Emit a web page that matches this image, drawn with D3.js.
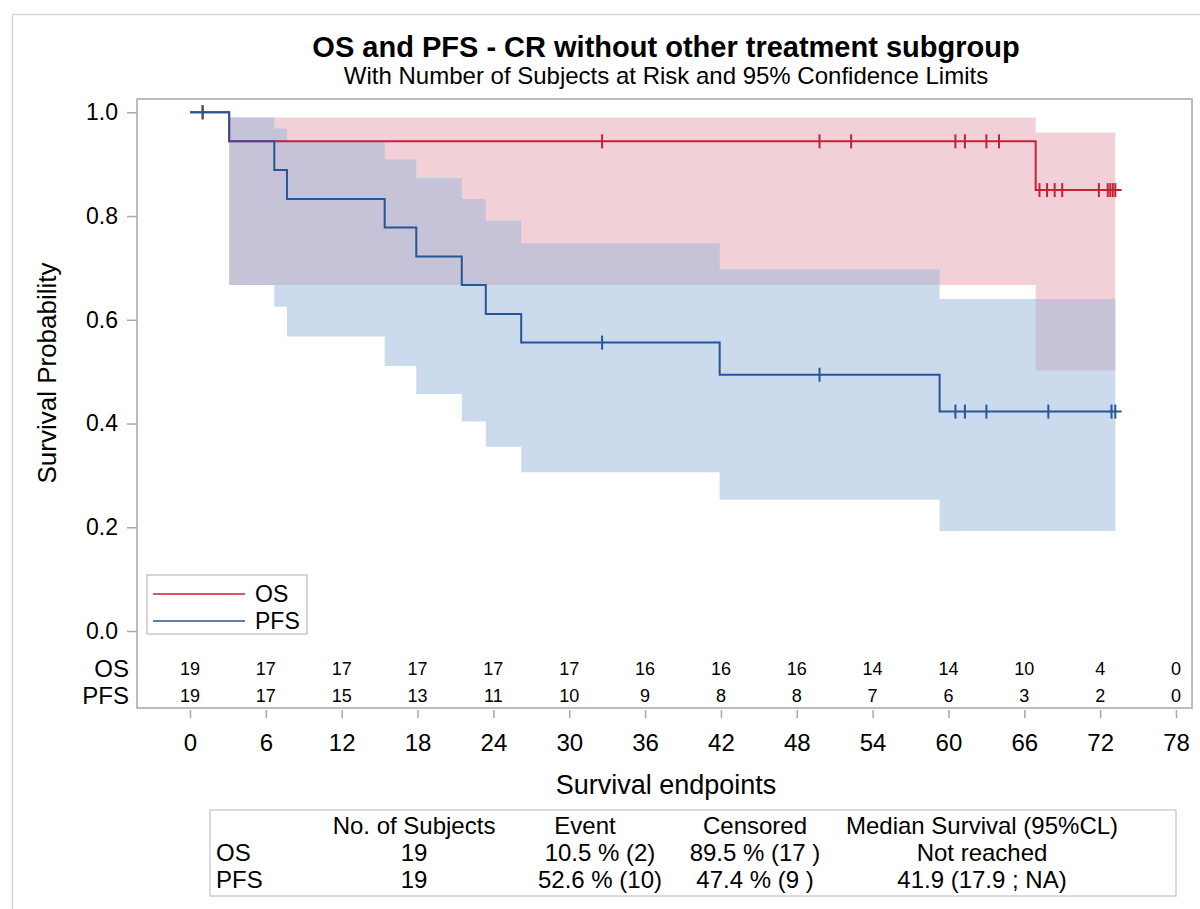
<!DOCTYPE html>
<html>
<head>
<meta charset="utf-8">
<script src="https://cdn.jsdelivr.net/npm/d3@7"></script>
<style>
  body { margin: 0; background: #fff; }
  svg text { font-family: "Liberation Sans", Arial, sans-serif; fill: #000; }
</style>
</head>
<body>
<svg id="chart" width="1200" height="909"></svg>
<script>
// ---- data ----
var osTimes = [0, 3.1, 66.9];
var osSurv = [1, 0.944, 0.85];
var osCensor = [1, 32.6, 49.8, 52.3, 60.55, 61.3, 63.0, 64.0, 67.2, 67.8, 68.4, 69.0, 71.9, 72.6, 72.8, 73.0, 73.2];

var pfsTimes = [0, 3.1, 6.67, 7.67, 15.4, 17.9, 21.5, 23.4, 26.2, 41.9, 59.3];
var pfsSurv = [1, 0.944, 0.889, 0.833, 0.778, 0.722, 0.667, 0.611, 0.556, 0.494, 0.423];
var pfsCensor = [1, 32.6, 49.8, 60.55, 61.3, 63.0, 67.9, 72.9, 73.2];

var lastTime = 73.7;

// confidence bands (step functions)
var osBandTimes = [3.1, 66.9];
var osLower = [0.667, 0.502];
var osUpper = [0.990, 0.961];

var pfsBandTimes = [3.1, 6.67, 7.67, 15.4, 17.9, 21.5, 23.4, 26.2, 41.9, 59.3];
var pfsLower = [0.667, 0.625, 0.568, 0.511, 0.457, 0.404, 0.355, 0.306, 0.253, 0.193];
var pfsUpper = [0.990, 0.969, 0.945, 0.909, 0.873, 0.833, 0.791, 0.747, 0.697, 0.640];
var bandEnd = 73.2;

var riskTimes = [0, 6, 12, 18, 24, 30, 36, 42, 48, 54, 60, 66, 72, 78];
var osRisk = [19, 17, 17, 17, 17, 17, 16, 16, 16, 14, 14, 10, 4, 0];
var pfsRisk = [19, 17, 15, 13, 11, 10, 9, 8, 8, 7, 6, 3, 2, 0];

var xTicks = [0, 6, 12, 18, 24, 30, 36, 42, 48, 54, 60, 66, 72, 78];
var yTicks = [0, 0.2, 0.4, 0.6, 0.8, 1.0];

var tableHeader = ["", "No. of Subjects", "Event", "Censored", "Median Survival (95%CL)"];
var tableOS = ["OS", "19", "10.5 % (2)", "89.5 % (17 )", "Not reached"];
var tablePFS = ["PFS", "19", "52.6 % (10)", "47.4 % (9 )", "41.9 (17.9 ; NA)"];

var redLine = "#c61f38", blueLine = "#285596";
var pinkFill = "#f2d0d8", blueFill = "#cbdaed", purpleFill = "#c6c3d9";

var svg = d3.select("#chart");

// outer light border
svg.append("rect").attr("x", 12.5).attr("y", 14.5).attr("width", 1200).attr("height", 920)
  .attr("fill", "none").attr("stroke", "#d6d6d6").attr("stroke-width", 1.5);

var frame = {left: 137, right: 1192, top: 99, bottom: 708};

var x = d3.scaleLinear().domain([0, 78]).range([190, 1176]);
var y = d3.scaleLinear().domain([0, 1]).range([631, 112.3]);

// title
svg.append("text").attr("x", 666).attr("y", 57).attr("text-anchor", "middle")
  .style("font-size", "29px").style("font-weight", "bold")
  .text("OS and PFS - CR without other treatment subgroup");
svg.append("text").attr("x", 666).attr("y", 84).attr("text-anchor", "middle")
  .style("font-size", "24px")
  .text("With Number of Subjects at Risk and 95% Confidence Limits");

function bandData(times, lo, hi, end) {
  var d = times.map(function(t, i) { return {t: t, lo: lo[i], hi: hi[i]}; });
  d.push({t: end, lo: lo[lo.length - 1], hi: hi[hi.length - 1]});
  return d;
}
function stepData(times, s, end) {
  var d = times.map(function(t, i) { return {t: t, s: s[i]}; });
  d.push({t: end, s: s[s.length - 1]});
  return d;
}

var area = d3.area().curve(d3.curveStepAfter)
  .x(function(d) { return x(d.t); })
  .y0(function(d) { return y(d.lo); })
  .y1(function(d) { return y(d.hi); });

var line = d3.line().curve(d3.curveStepAfter)
  .x(function(d) { return x(d.t); })
  .y(function(d) { return y(d.s); });

var osBand = bandData(osBandTimes, osLower, osUpper, bandEnd);
var pfsBand = bandData(pfsBandTimes, pfsLower, pfsUpper, bandEnd);

svg.append("clipPath").attr("id", "osClip").append("path").attr("d", area(osBand));

var plot = svg.append("g");
plot.append("path").attr("d", area(osBand)).attr("fill", pinkFill);
plot.append("path").attr("d", area(pfsBand)).attr("fill", blueFill);
plot.append("path").attr("d", area(pfsBand)).attr("fill", purpleFill).attr("clip-path", "url(#osClip)");

var osData = stepData(osTimes, osSurv, lastTime);
var pfsData = stepData(pfsTimes, pfsSurv, lastTime);

function survAt(times, s, t) {
  var v = s[0];
  times.forEach(function(tt, i) { if (tt <= t) v = s[i]; });
  return v;
}

function drawCurve(data, times, s, censor, color) {
  plot.append("path").attr("d", line(data)).attr("fill", "none")
    .attr("stroke", color).attr("stroke-width", 2);
  plot.selectAll(null).data(censor).enter().append("line")
    .attr("x1", function(d) { return x(d); }).attr("x2", function(d) { return x(d); })
    .attr("y1", function(d) { return y(survAt(times, s, d)) - 7; })
    .attr("y2", function(d) { return y(survAt(times, s, d)) + 7; })
    .attr("stroke", color).attr("stroke-width", 2);
}
drawCurve(osData, osTimes, osSurv, osCensor, redLine);
drawCurve(pfsData, pfsTimes, pfsSurv, pfsCensor, blueLine);

// frame
svg.append("rect").attr("x", frame.left).attr("y", frame.top)
  .attr("width", frame.right - frame.left).attr("height", frame.bottom - frame.top)
  .attr("fill", "none").attr("stroke", "#a8a8a8").attr("stroke-width", 1.5);

// axes
var yAxis = svg.append("g").attr("transform", "translate(" + frame.left + ",0)")
  .call(d3.axisLeft(y).tickValues(yTicks).tickFormat(d3.format(".1f")).tickSize(10).tickPadding(9));
var xAxis = svg.append("g").attr("transform", "translate(0," + (frame.bottom + 2) + ")")
  .call(d3.axisBottom(x).tickValues(xTicks).tickFormat(d3.format("d")).tickSize(8).tickPadding(16));
[yAxis, xAxis].forEach(function(a) {
  a.select(".domain").remove();
  a.selectAll(".tick line").attr("stroke", "#a8a8a8").attr("stroke-width", 1.5);
  a.selectAll(".tick text").style("font-family", "Liberation Sans, Arial, sans-serif").attr("fill", "#000");
});
yAxis.selectAll(".tick text").style("font-size", "23px");
xAxis.selectAll(".tick text").style("font-size", "24px");

svg.append("text").attr("transform", "translate(56,373) rotate(-90)").attr("text-anchor", "middle")
  .style("font-size", "26px").text("Survival Probability");
svg.append("text").attr("x", 666).attr("y", 794).attr("text-anchor", "middle")
  .style("font-size", "27px").text("Survival endpoints");

// number at risk
var riskRows = [{label: "OS", vals: osRisk, y: 668}, {label: "PFS", vals: pfsRisk, y: 695.5}];
riskRows.forEach(function(r) {
  svg.append("text").attr("x", 129).attr("y", r.y + 8.5).attr("text-anchor", "end")
    .style("font-size", "24px").text(r.label);
  svg.selectAll(null).data(r.vals).enter().append("text")
    .attr("x", function(d, i) { return x(riskTimes[i]); }).attr("y", r.y + 6.5)
    .attr("text-anchor", "middle").style("font-size", "18px").text(function(d) { return d; });
});

// legend
var lg = svg.append("g");
lg.append("rect").attr("x", 147).attr("y", 575).attr("width", 160).attr("height", 59)
  .attr("fill", "#fff").attr("stroke", "#c8c8c8").attr("stroke-width", 1.5);
[{name: "OS", color: redLine, y: 594}, {name: "PFS", color: blueLine, y: 621}].forEach(function(e) {
  lg.append("line").attr("x1", 153).attr("x2", 245).attr("y1", e.y).attr("y2", e.y)
    .attr("stroke", e.color).attr("stroke-width", 1.5);
  lg.append("text").attr("x", 255).attr("y", e.y + 8).style("font-size", "23px").text(e.name);
});

// summary table
svg.append("rect").attr("x", 210).attr("y", 810).attr("width", 966).attr("height", 86)
  .attr("fill", "none").attr("stroke", "#cfcfcf").attr("stroke-width", 1.5);
var colX = [216, 414, 600, 755, 982];
var headX = [216, 414, 585, 755, 982];
[{row: tableHeader, y: 834, xs: headX}, {row: tableOS, y: 861, xs: colX}, {row: tablePFS, y: 888, xs: colX}].forEach(function(r) {
  svg.selectAll(null).data(r.row).enter().append("text")
    .attr("x", function(d, i) { return r.xs[i]; }).attr("y", r.y)
    .attr("text-anchor", function(d, i) { return i === 0 ? "start" : "middle"; })
    .style("font-size", "24px").text(function(d) { return d; });
});
</script>
</body>
</html>
